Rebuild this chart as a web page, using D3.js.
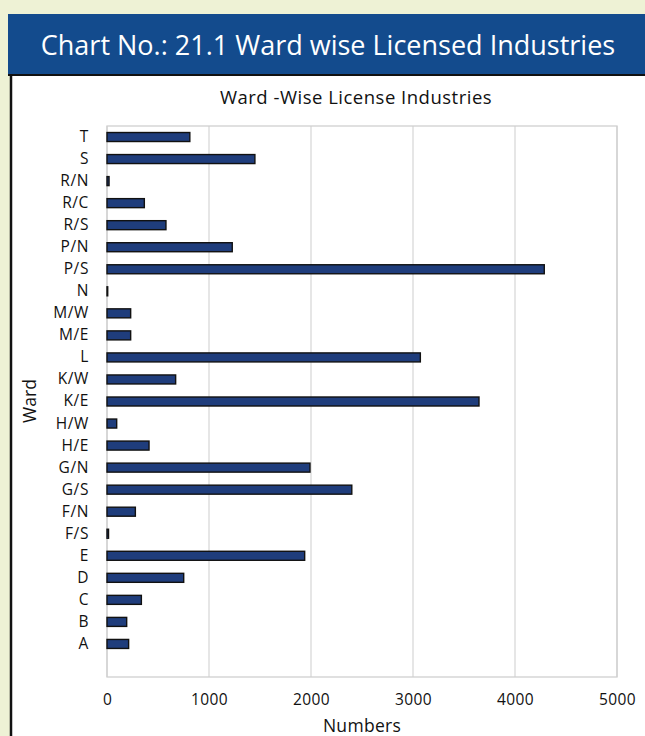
<!DOCTYPE html>
<html lang="en">
<head>
<meta charset="utf-8">
<title>Ward wise Licensed Industries</title>
<style>
  body { margin: 0; background: #eef2d5; }
  svg { display: block; font-family: "Open Sans", "Noto Sans", sans-serif; }
</style>
<script src="https://d3js.org/d3.v7.min.js"></script>
</head>
<body>
<script>
// wards, top to bottom as drawn ("" is the empty slot below A)
let wards = ["T", "S", "R/N", "R/C", "R/S", "P/N", "P/S", "N", "M/W", "M/E", "L", "K/W",
             "K/E", "H/W", "H/E", "G/N", "G/S", "F/N", "F/S", "E", "D", "C", "B", "A", ""]
let counts = [812, 1450, 20, 366, 578, 1228, 4287, 7, 232, 232, 3072, 673,
              3647, 95, 412, 1990, 2400, 278, 15, 1938, 752, 337, 193, 212]
let xTicks = [0, 1000, 2000, 3000, 4000, 5000]

let width = 645
let height = 736

let svg = d3.select("body").append("svg")
    .attr("width", width)
    .attr("height", height)

// header bar
svg.append("rect")
    .attr("x", 8).attr("y", 14)
    .attr("width", width - 8).attr("height", 61)
    .attr("fill", "#134b8d")
svg.append("text")
    .attr("x", 328).attr("y", 55)
    .attr("text-anchor", "middle")
    .attr("fill", "white")
    .attr("font-size", 27)
    .text("Chart No.: 21.1 Ward wise Licensed Industries")

// white panel
svg.append("rect")
    .attr("x", 11).attr("y", 75)
    .attr("width", width - 11).attr("height", height - 75)
    .attr("fill", "white")
svg.append("line")
    .attr("x1", 8).attr("x2", width).attr("y1", 75).attr("y2", 75)
    .attr("stroke", "#111").attr("stroke-width", 2)
svg.append("line")
    .attr("x1", 11).attr("x2", 11).attr("y1", 75).attr("y2", height)
    .attr("stroke", "#111").attr("stroke-width", 2.5)

let plotLeft = 107, plotRight = 617, plotTop = 126, plotBottom = 677

let x = d3.scaleLinear().domain([0, 5000]).range([plotLeft, plotRight])
let y = d3.scaleBand().domain(wards)
    .range([plotTop, plotBottom])
    .paddingInner(0.56).paddingOuter(0.28)

// gridlines
svg.append("g")
    .selectAll("line")
    .data(xTicks)
    .enter().append("line")
    .attr("x1", d => x(d)).attr("x2", d => x(d))
    .attr("y1", plotTop).attr("y2", plotBottom)
    .attr("stroke", "#d9d9d9").attr("stroke-width", 1.3)

svg.append("rect")
    .attr("x", plotLeft).attr("y", plotTop)
    .attr("width", plotRight - plotLeft).attr("height", plotBottom - plotTop)
    .attr("fill", "none").attr("stroke", "#d0d0d0").attr("stroke-width", 1.3)

// bars
let barData = wards.slice(0, counts.length).map((w, i) => ({ ward: w, value: counts[i] }))
svg.append("g")
    .selectAll("rect")
    .data(barData)
    .enter().append("rect")
    .attr("x", x(0))
    .attr("y", d => y(d.ward) + y.bandwidth() / 2 - 4.5)
    .attr("width", d => x(d.value) - x(0))
    .attr("height", 9)
    .attr("fill", "#1f3d7c")
    .attr("stroke", "#111")
    .attr("stroke-width", 1.4)

// y axis labels
let yAxis = d3.axisLeft(y).tickSize(0).tickPadding(18)
let gy = svg.append("g")
    .attr("transform", `translate(${plotLeft},0)`)
    .call(yAxis)
gy.select(".domain").remove()
gy.selectAll("text").attr("font-size", 15.5).attr("fill", "#111")
    .attr("letter-spacing", 0.6)
    .attr("font-family", "'Open Sans', 'Noto Sans', sans-serif")

// x axis labels
let xAxis = d3.axisBottom(x).tickValues(xTicks).tickSize(0).tickPadding(17).tickFormat(d => d)
let gx = svg.append("g")
    .attr("transform", `translate(0,${plotBottom})`)
    .call(xAxis)
gx.select(".domain").remove()
gx.selectAll("text").attr("font-size", 15.5).attr("fill", "#111")
    .attr("letter-spacing", 0.4)
    .attr("font-family", "'Open Sans', 'Noto Sans', sans-serif")

// titles
svg.append("text")
    .attr("x", 356).attr("y", 104)
    .attr("text-anchor", "middle")
    .attr("font-size", 18.5)
    .attr("letter-spacing", 0.5)
    .attr("fill", "#111")
    .text("Ward -Wise License Industries")

svg.append("text")
    .attr("x", 362).attr("y", 732)
    .attr("text-anchor", "middle")
    .attr("font-size", 17.5)
    .attr("letter-spacing", 0.3)
    .attr("fill", "#111")
    .text("Numbers")

svg.append("text")
    .attr("transform", "translate(36,401) rotate(-90)")
    .attr("text-anchor", "middle")
    .attr("font-size", 17.5)
    .attr("fill", "#111")
    .text("Ward")
</script>
</body>
</html>
